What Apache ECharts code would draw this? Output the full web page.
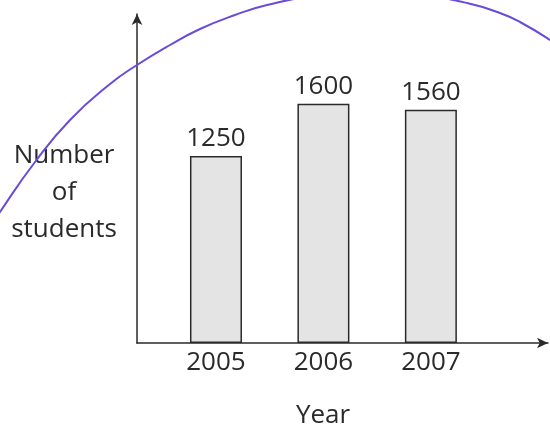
<!DOCTYPE html>
<html>
<head>
<meta charset="utf-8">
<script src="https://cdn.jsdelivr.net/npm/echarts@6/dist/echarts.min.js"></script>
<style>
html,body{margin:0;padding:0;background:#fff;}
#chart{width:550px;height:436px;}
</style>
</head>
<body>
<div id="chart"></div>
<script>
// Data
const years = [2005, 2006, 2007];
const students = [1250, 1600, 1560];
const yLabelLines = ['Number', 'of', 'students'];
const xTitle = 'Year';
// Hand-drawn purple arc seen on the scanned page (canvas-space points)
const arcX = [-10, 0, 35, 70, 110, 137, 170, 200, 235, 267, 320, 370, 420, 467, 500, 520, 550, 560];
const arcY = [228, 212, 162, 120, 84, 65, 45, 29, 15, 5, -5, -8, -5, 3, 13, 22, 40, 48];

const font = '"Open Sans", sans-serif';
const ink = '#2a2a2a';

const chart = echarts.init(document.getElementById('chart'), null, {renderer: 'canvas'});
chart.setOption({
  animation: false,
  backgroundColor: '#ffffff',
  grid: [
    {left: 137, right: 2, top: 14, bottom: 93},
    {left: 0, right: 0, top: 0, bottom: 0}
  ],
  xAxis: [
    {
      type: 'value', gridIndex: 0, min: 2004.265, max: 2008.09,
      axisLine: {show: true, lineStyle: {color: ink, width: 1.5}, symbol: ['none', 'arrow'], symbolSize: [8, 11]},
      axisTick: {show: false},
      splitLine: {show: false},
      axisLabel: {
        customValues: years, margin: 7,
        color: ink, fontFamily: font, fontSize: 26,
        formatter: v => String(v)
      }
    },
    {type: 'value', gridIndex: 1, min: 0, max: 550, show: false}
  ],
  yAxis: [
    {
      type: 'value', gridIndex: 0, min: 0, max: 2200,
      axisLine: {show: true, lineStyle: {color: ink, width: 1.5}, symbol: ['none', 'arrow'], symbolSize: [8, 11]},
      axisTick: {show: false},
      axisLabel: {show: false},
      splitLine: {show: false}
    },
    {type: 'value', gridIndex: 1, min: 0, max: 436, inverse: true, show: false}
  ],
  series: [
    {
      type: 'bar', xAxisIndex: 0, yAxisIndex: 0,
      data: years.map((y, i) => [y, students[i]]),
      barWidth: 52,
      itemStyle: {color: '#e4e4e4', borderColor: ink, borderWidth: 1.5},
      label: {
        show: true, position: 'top', distance: 4,
        color: ink, fontFamily: font, fontSize: 26
      }
    },
    {
      type: 'line', xAxisIndex: 1, yAxisIndex: 1,
      data: arcX.map((x, i) => [x, arcY[i]]),
      smooth: true, showSymbol: false, symbol: 'none',
      lineStyle: {color: '#6a4bd8', width: 2},
      silent: true, z: 10
    }
  ],
  graphic: [
    {
      type: 'text', x: 64, y: 137,
      style: {
        text: yLabelLines.join('\n'), fill: ink, font: '26px ' + font,
        align: 'center', verticalAlign: 'top', lineHeight: 37
      }
    },
    {
      type: 'text', x: 323, y: 403,
      style: {text: xTitle, fill: ink, font: '26px ' + font, align: 'center', verticalAlign: 'top'}
    }
  ]
});
</script>
</body>
</html>
